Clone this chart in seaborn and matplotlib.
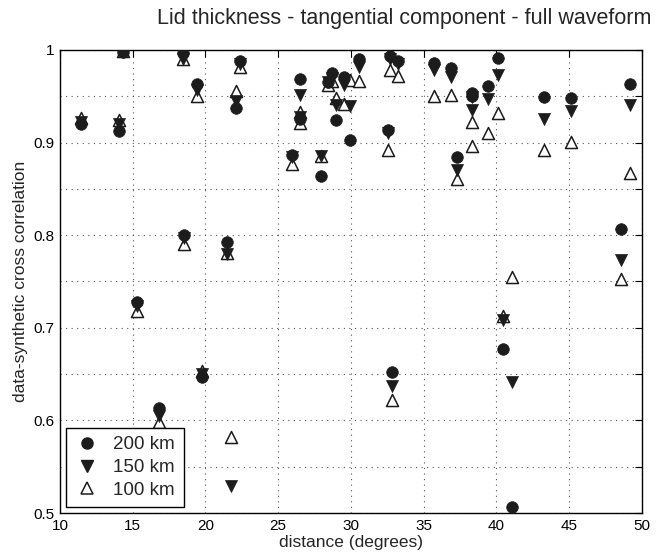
import numpy as np
import pandas as pd
import matplotlib
matplotlib.use("Agg")
import matplotlib.pyplot as plt
import seaborn as sns
from matplotlib.lines import Line2D

distance = [11.42, 14.08, 14.35, 15.27, 16.83, 18.48, 18.55, 19.39, 19.74, 21.45,
            21.75, 22.07, 22.37, 25.92, 26.49, 26.49, 27.94, 28.40, 28.67, 28.95,
            29.52, 29.93, 30.55, 32.57, 32.68, 32.80, 33.25, 35.73, 36.87, 37.26,
            38.30, 38.30, 39.39, 40.08, 40.47, 41.04, 43.26, 45.10, 48.53, 49.18]
corr_200 = [0.920, 0.912, 0.998, 0.728, 0.613, 0.997, 0.800, 0.963, 0.647, 0.793,
            np.nan, 0.937, 0.988, 0.887, 0.969, 0.925, 0.864, 0.965, 0.975, 0.924,
            0.971, 0.903, 0.990, 0.914, 0.993, 0.652, 0.988, 0.986, 0.981, 0.884,
            0.953, 0.950, 0.961, 0.991, 0.677, 0.507, 0.949, 0.948, 0.807, 0.963]
corr_150 = [0.922, 0.920, 0.998, 0.724, 0.605, 0.990, 0.797, 0.957, 0.650, 0.780,
            0.529, 0.945, 0.985, 0.884, 0.951, 0.928, 0.885, 0.965, 0.970, 0.941,
            0.962, 0.939, 0.982, 0.910, 0.990, 0.637, 0.985, 0.978, 0.971, 0.870,
            0.935, 0.949, 0.947, 0.973, 0.708, 0.642, 0.925, 0.934, 0.773, 0.941]
corr_100 = [0.927, 0.924, 0.999, 0.718, 0.598, 0.990, 0.791, 0.950, 0.653, 0.781,
            0.582, 0.956, 0.982, 0.877, 0.933, 0.921, 0.885, 0.962, 0.966, 0.948,
            0.942, 0.968, 0.966, 0.892, 0.978, 0.622, 0.972, 0.950, 0.951, 0.861,
            0.922, 0.896, 0.910, 0.932, 0.713, 0.755, 0.892, 0.901, 0.753, 0.867]
labels = ["200 km", "150 km", "100 km"]
x_ticks = [10, 15, 20, 25, 30, 35, 40, 45, 50]
y_labeled = [0.5, 0.6, 0.7, 0.8, 0.9, 1.0]

sns.set_style("white")
plt.rcParams["font.family"] = ["Liberation Sans", "DejaVu Sans"]

fig = plt.figure(figsize=(6.65, 5.54), dpi=100)
ax = fig.add_axes([0.0902, 0.074, 0.8752, 0.8358])

ink = "#1c1c1c"
d200 = pd.DataFrame({"distance": distance, "corr": corr_200})
d150 = pd.DataFrame({"distance": distance, "corr": corr_150})
d100 = pd.DataFrame({"distance": distance, "corr": corr_100})

sns.scatterplot(data=d100, x="distance", y="corr", marker="^", s=75,
                facecolor="white", edgecolor=ink, linewidth=1.1, ax=ax, zorder=3)
sns.scatterplot(data=d150, x="distance", y="corr", marker="v", s=75,
                color=ink, edgecolor=ink, linewidth=0.5, ax=ax, zorder=4)
sns.scatterplot(data=d200, x="distance", y="corr", marker="o", s=70,
                color=ink, edgecolor=ink, linewidth=0.5, ax=ax, zorder=5)

ax.set_xlim(10, 50)
ax.set_ylim(0.5, 1.0)
ax.set_xticks(x_ticks)
ax.set_xticklabels([str(v) for v in x_ticks])
yt = np.round(np.arange(0.5, 1.0001, 0.05), 2)
ax.set_yticks(yt)
ax.set_yticklabels([("1" if v == 1.0 else f"{v:.1f}") if any(abs(v - l) < 1e-6 for l in y_labeled) else "" for v in yt])

ax.grid(True, linestyle=(0, (1, 4)), color="#555555", linewidth=0.8)
ax.tick_params(direction="in", length=5, width=0.8, top=True, right=True,
               labelsize=11, colors="black", pad=4)
for sp in ax.spines.values():
    sp.set_color("black")
    sp.set_linewidth(1.0)

ax.set_xlabel("distance (degrees)", fontsize=12.5, labelpad=2)
ax.set_ylabel("data-synthetic cross correlation", fontsize=12.5, labelpad=4)
fig.text(0.98, 0.957, "Lid thickness - tangential component - full waveform",
         ha="right", va="baseline", fontsize=15.5)

handles = [
    Line2D([], [], marker="o", linestyle="none", markersize=8, color=ink),
    Line2D([], [], marker="v", linestyle="none", markersize=8, color=ink),
    Line2D([], [], marker="^", linestyle="none", markersize=8,
           markerfacecolor="white", markeredgecolor=ink, markeredgewidth=1.1),
]
leg = ax.legend(handles, labels, loc="lower left", fontsize=13.5, frameon=True,
                fancybox=False, edgecolor="black", framealpha=1,
                borderaxespad=0.3, handletextpad=0.7, labelspacing=0.3,
                borderpad=0.45, handlelength=1.4)
leg.get_frame().set_linewidth(1.0)

fig.savefig("out.png", dpi=100)
